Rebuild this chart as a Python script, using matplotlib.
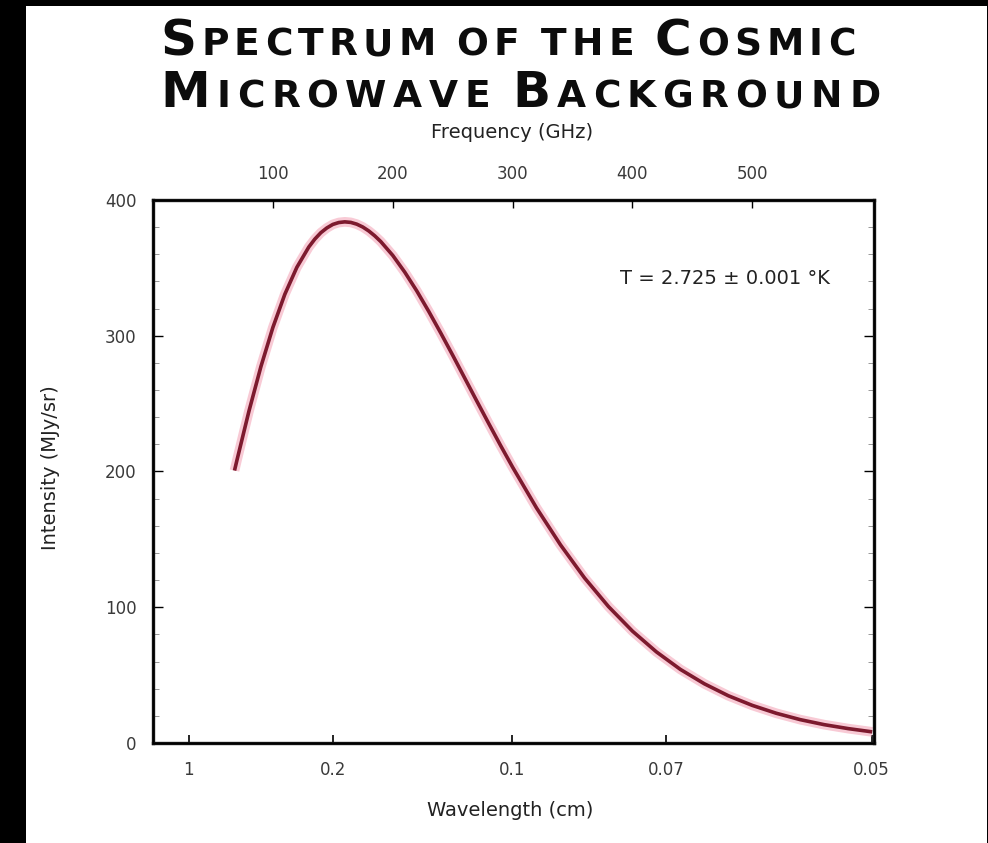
import matplotlib
matplotlib.use('Agg')
import matplotlib.pyplot as plt
from matplotlib.ticker import MultipleLocator

# CMB spectrum (frequency in GHz, intensity in MJy/sr)
freq = [68, 70, 80, 90, 100, 110, 120, 130, 135, 140, 145, 150, 155, 160, 165,
        170, 175, 180, 185, 190, 200, 210, 220, 230, 240, 250, 260, 270, 280,
        290, 300, 320, 340, 360, 380, 400, 420, 440, 460, 480, 500, 520, 540,
        560, 580, 600]
intensity = [200.7, 208.2, 244.3, 277.2, 306.1, 330.6, 350.4, 365.4, 371.2, 375.9,
             379.4, 382.0, 383.4, 383.9, 383.5, 382.2, 380.1, 377.2, 373.6, 369.4,
             359.2, 346.9, 333.1, 318.0, 302.1, 285.7, 268.9, 252.1, 235.5, 219.1,
             203.2, 173.1, 145.9, 121.6, 100.5, 82.4, 67.1, 54.2, 43.6, 34.8,
             27.7, 21.9, 17.2, 13.5, 10.6, 8.2]

freq_ticks = [100, 200, 300, 400, 500]
wave_labels = ['1', '0.2', '0.1', '0.07', '0.05']
wave_cm = [1.0, 0.2, 0.1, 0.07, 0.05]
y_ticks = [0, 100, 200, 300, 400]

W, H = 988, 843
fig = plt.figure(figsize=(W / 100, H / 100), dpi=100)
fig.patch.set_facecolor('black')
# white page inside the black frame
fig.add_artist(plt.Rectangle((26 / W, 0), (987 - 26) / W, (H - 6) / H,
                             transform=fig.transFigure, facecolor='white',
                             edgecolor='none', zorder=0))

tick_font = ['DejaVu Sans']
grey = '#3a3a3a'

ax = fig.add_axes([153 / W, (H - 743) / H, (874 - 153) / W, (743 - 200) / H])
ax.set_facecolor('white')
ax.plot(freq, intensity, color='#f4a7b9', lw=7, alpha=0.6,
        solid_capstyle='butt', solid_joinstyle='round')
ax.plot(freq, intensity, color='#7d1a2e', lw=2.6,
        solid_capstyle='butt', solid_joinstyle='round')
ax.set_xlim(0, 601.5)
ax.set_ylim(0, 400)

for s in ax.spines.values():
    s.set_linewidth(2.4)
    s.set_color('#111111')

# bottom axis labelled in wavelength (cm), positions = c / lambda
wave_pos = [29.98 / w for w in wave_cm]
ax.set_xticks(wave_pos)
ax.set_xticklabels(wave_labels)
ax.set_yticks(y_ticks)
ax.yaxis.set_minor_locator(MultipleLocator(20))
ax.tick_params(axis='x', direction='in', length=6, width=1.2, pad=13,
               labelsize=12, labelcolor=grey, top=False)
ax.tick_params(axis='y', which='major', direction='in', length=7, width=1.0,
               pad=12, labelsize=12, labelcolor=grey, right=True)
ax.tick_params(axis='y', which='minor', direction='in', length=4, width=0.6,
               right=True, color='#888888')
for lab in ax.get_xticklabels() + ax.get_yticklabels():
    lab.set_family(tick_font)

ax_top = ax.twiny()
ax_top.set_xlim(ax.get_xlim())
ax_top.set_xticks(freq_ticks)
ax_top.tick_params(axis='x', direction='in', length=6, width=1.0, pad=12,
                   labelsize=12, labelcolor=grey)
for lab in ax_top.get_xticklabels():
    lab.set_family(tick_font)

ax.text(0.939, 0.856, 'T = 2.725 \u00b1 0.001 \u00b0K', transform=ax.transAxes,
        ha='right', va='center', fontsize=14, color='#222222', family=tick_font)

fig.text(512 / W, 1 - 133 / H, 'Frequency (GHz)', ha='center', va='center',
         fontsize=14, color='#222222', family=tick_font)
fig.text(510 / W, 1 - 810 / H, 'Wavelength (cm)', ha='center', va='center',
         fontsize=14, color='#222222', family=tick_font)
fig.text(50 / W, 1 - 468 / H, 'Intensity (MJy/sr)', ha='center', va='center',
         rotation=90, fontsize=14, color='#222222', family=tick_font)

# title in small caps, drawn letter by letter
renderer = fig.canvas.get_renderer()
big, small = 36, 27


def caps_line(x, base, pieces, track, space):
    for txt, size in pieces:
        for ch in txt:
            if ch == ' ':
                x += space
                continue
            t = fig.text(x / W, 1 - base / H, ch, fontsize=size, weight='bold',
                         family='DejaVu Sans', va='baseline', ha='left',
                         color='#0c0c0c')
            bb = t.get_window_extent(renderer)
            x = bb.x1 + track


caps_line(160, 55, [('S', big), ('PECTRUM OF THE ', small), ('C', big),
                    ('OSMIC', small)], 5.2, 16)
caps_line(160, 107, [('M', big), ('ICROWAVE ', small), ('B', big),
                     ('ACKGROUND', small)], 6.6, 16)

fig.savefig('out.png', dpi=100, facecolor=fig.get_facecolor())
